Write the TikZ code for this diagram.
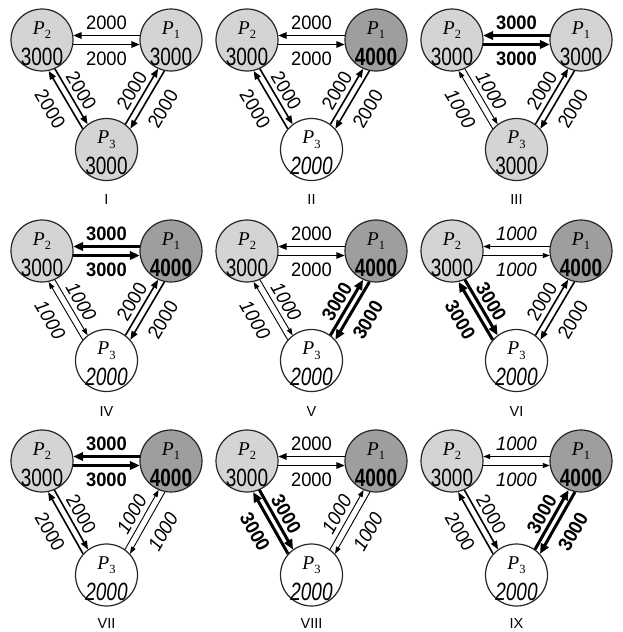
\documentclass[tikz,border=0pt]{standalone}
\usepackage{fontspec}
\setmainfont{Liberation Sans}
\newfontfamily\pfont{Liberation Serif}
\usetikzlibrary{arrows.meta,calc}
\tikzset{
  circ/.style={circle, draw=black!85, line width=1.2pt, minimum size=62pt, inner sep=0pt},
  fillA/.style={fill=black!17},
  fillB/.style={fill=black!38},
  fillC/.style={fill=white},
  pname/.style={anchor=base, inner sep=0pt},
  val/.style={anchor=base, inner sep=0pt, font=\fontsize{25}{26}\selectfont},
  e1/.style={line width=0.9pt, -{Triangle[length=7pt,width=5pt]}},
  e2/.style={line width=1.6pt, -{Triangle[length=8.5pt,width=6.5pt]}},
  e3/.style={line width=3pt, -{Triangle[length=10pt,width=8.5pt]}},
  t1/.style={inner sep=0pt, font=\fontsize{19.5}{20}\selectfont\itshape},
  t2/.style={inner sep=0pt, font=\fontsize{19.5}{20}\selectfont},
  t3/.style={inner sep=0pt, font=\fontsize{19.5}{20}\selectfont\bfseries},
  rom/.style={inner sep=0pt, font=\fontsize{14.5}{15}\selectfont}
}
\newcommand\nar[1]{\scalebox{0.76}[1]{#1}}
\newcommand\ena[1]{\scalebox{0.94}[1]{#1}}
\newcommand\valA{\nar{3000}}
\newcommand\valB{\nar{\bfseries 4000}}
\newcommand\valC{\nar{\itshape 2000}}
\newcommand\pthreey{149.5}
\newcommand\romy{160}
\newcommand\pn[1]{{\pfont\fontsize{19.5}{20}\selectfont\itshape P\kern0.3pt\raisebox{-4.5pt}{\fontsize{12.5}{13}\selectfont\upshape #1}}}
\newcommand\conn[5]{\draw[#5, shorten <=#4, shorten >=#4] ($(#1)!#3!90:(#2)$) -- ($(#2)!#3!-90:(#1)$);}
\newcommand\elab[5]{\path ($(#1)!#3!90:(#2)$) -- ($(#2)!#3!-90:(#1)$) node[midway, sloped, #4] {\ena{#5}};}
% #1 x, #2 y, #3 P1 state, #4 P3 state, #5 top, #6 left, #7 right, #8 numeral, #9 prefix
\newcommand\panel[9]{%
\begin{scope}[shift={(#1,#2)}]
  \node[circ, fillA] (#9p2) at (42,40) {};
  \node[circ, fill#3] (#9p1) at (171,40) {};
  \node[circ, fill#4] (#9p3) at (106.5,\pthreey) {};
  \node[pname] at ($(#9p2)+(0,-6)$) {\pn{2}};
  \node[pname] at ($(#9p1)+(0,-6)$) {\pn{1}};
  \node[pname] at ($(#9p3)+(0,-6)$) {\pn{3}};
  \node[val] at ($(#9p2)+(0,25)$) {\valA};
  \node[val] at ($(#9p1)+(0,25)$) {\csname val#3\endcsname};
  \node[val] at ($(#9p3)+(0,25)$) {\csname val#4\endcsname};
  % top pair
  \conn{#9p1}{#9p2}{-4.5pt}{31.2pt}{e#5}
  \conn{#9p2}{#9p1}{-4.5pt}{31.2pt}{e#5}
  \elab{#9p2}{#9p1}{17.5pt}{t#5}{#5000}
  \elab{#9p2}{#9p1}{-19pt}{t#5}{#5000}
  % left pair
  \conn{#9p2}{#9p3}{-3.5pt}{31.3pt}{e#6}
  \conn{#9p3}{#9p2}{10pt}{30pt}{e#6}
  \elab{#9p2}{#9p3}{8pt}{t#6}{#6000}
  \elab{#9p2}{#9p3}{-28pt}{t#6}{#6000}
  % right pair
  \conn{#9p3}{#9p1}{-3.5pt}{31.3pt}{e#7}
  \conn{#9p1}{#9p3}{10pt}{30pt}{e#7}
  \elab{#9p3}{#9p1}{8pt}{t#7}{#7000}
  \elab{#9p3}{#9p1}{-28pt}{t#7}{#7000}
  \node[rom] at ($(#9p2)!0.5!(#9p1)+(0,\romy)$) {#8};
\end{scope}}
\begin{document}
\begin{tikzpicture}[x=1pt, y=-1pt]
\useasboundingbox (0,0) rectangle (622,632);
\panel{0}{0}{A}{A}{2}{2}{2}{I}{a}
\panel{205}{0}{B}{C}{2}{2}{2}{II}{b}
\panel{410}{0}{A}{A}{3}{1}{2}{III}{c}
\renewcommand\romy{161}
\panel{0}{211}{B}{C}{3}{1}{2}{IV}{d}
\panel{205}{211}{B}{C}{2}{1}{3}{V}{e}
\panel{410}{211}{B}{C}{1}{3}{2}{VI}{f}
\renewcommand\pthreey{154}
\renewcommand\romy{162.5}
\panel{0}{421}{B}{C}{3}{2}{1}{VII}{g}
\panel{205}{421}{B}{C}{2}{3}{1}{VIII}{h}
\panel{410}{421}{B}{C}{1}{2}{3}{IX}{i}
\end{tikzpicture}
\end{document}
